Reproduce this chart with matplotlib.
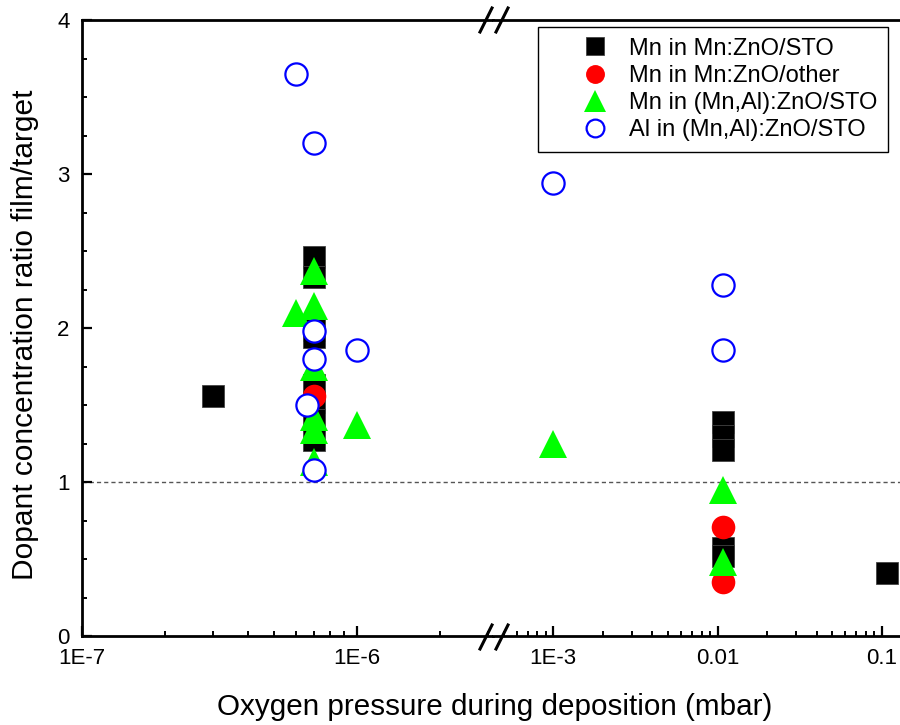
import numpy as np
import matplotlib
matplotlib.use("Agg")
import matplotlib.pyplot as plt
from matplotlib.lines import Line2D
from matplotlib.ticker import LogLocator, MultipleLocator, NullFormatter

plt.rcParams['font.family'] = ['Liberation Sans', 'DejaVu Sans']

# data (pressure in mbar, ratio film/target)
mn_sto_x = [3e-7, 7e-7, 7e-7, 7e-7, 7e-7, 7e-7, 7e-7, 7e-7, 7e-7,
            0.0108, 0.0108, 0.0108, 0.0108, 0.0108, 0.107]
mn_sto_y = [1.56, 2.46, 2.33, 1.99, 1.94, 1.63, 1.52, 1.40, 1.27,
            1.39, 1.30, 1.21, 0.57, 0.52, 0.41]

mn_other_x = [7e-7, 0.0108, 0.0108]
mn_other_y = [1.56, 0.71, 0.35]

mn_al_x = [7e-7, 6e-7, 7e-7, 7e-7, 7e-7, 7e-7, 1e-6, 7e-7, 1e-3, 0.0108, 0.0108]
mn_al_y = [2.37, 2.10, 2.14, 1.75, 1.42, 1.34, 1.37, 1.13, 1.25, 0.95, 0.48]

al_x = [6e-7, 7e-7, 7e-7, 7e-7, 6.6e-7, 7e-7, 1e-6, 1e-3, 0.0108, 0.0108]
al_y = [3.65, 3.20, 1.98, 1.80, 1.50, 1.08, 1.86, 2.94, 2.28, 1.86]

labels = ['Mn in Mn:ZnO/STO', 'Mn in Mn:ZnO/other',
          'Mn in (Mn,Al):ZnO/STO', 'Al in (Mn,Al):ZnO/STO']

W, H = 900, 725
fig = plt.figure(figsize=(9, 7.25), dpi=100)

# broken x axis: two log axes side by side
x_break = 493
ax1 = fig.add_axes([82 / W, (H - 636) / H, (x_break - 82) / W, 616 / H])
ax2 = fig.add_axes([x_break / W, (H - 636) / H, (905 - x_break) / W, 616 / H])

for ax in (ax1, ax2):
    ax.set_xscale('log')
    ax.set_ylim(0, 4)
    ax.axhline(1, color='#555555', lw=1, ls=(0, (3, 2.2)), zorder=1)
    ax.plot(mn_sto_x, mn_sto_y, ls='none', marker='s', ms=15.5,
            mfc='black', mec='#444444', mew=0.6, zorder=2)
    ax.plot(mn_other_x, mn_other_y, ls='none', marker='o', ms=17,
            mfc='red', mec='red', mew=0, zorder=3)
    ax.plot(mn_al_x, mn_al_y, ls='none', marker='^', ms=19.5,
            mfc='#00ff00', mec='#00ff00', mew=0, zorder=4)
    ax.plot(al_x, al_y, ls='none', marker='o', ms=16,
            mfc='white', mec='#0000ff', mew=1.6, zorder=5)
    for sp in ax.spines.values():
        sp.set_linewidth(2)
    ax.tick_params(which='major', direction='in', length=7, width=1.6,
                   labelsize=16, pad=9)
    ax.tick_params(which='minor', direction='in', length=3.5, width=1.4)
    ax.xaxis.set_minor_locator(LogLocator(base=10, subs=np.arange(2, 10)))
    ax.xaxis.set_minor_formatter(NullFormatter())

ax1.set_xlim(1e-7, 10 ** (-7 + (x_break - 82) / 275))
ax2.set_xlim(10 ** (-3 - (553 - x_break) / 164), 10 ** (-1 + (905 - 882) / 164))

ax1.set_xticks([1e-7, 1e-6], ['1E-7', '1E-6'])
ax2.set_xticks([1e-3, 1e-2, 1e-1], ['1E-3', '0.01', '0.1'])
ax1.set_yticks([0, 1, 2, 3, 4], ['0', '1', '2', '3', '4'])
ax1.yaxis.set_minor_locator(MultipleLocator(0.25))
ax1.spines['right'].set_visible(False)
ax2.spines['left'].set_visible(False)
ax2.spines['right'].set_visible(False)
ax2.tick_params(axis='y', which='both', left=False, labelleft=False)

# break marks
for yb in (20, 637):
    for xc in (486, 502):
        fig.add_artist(Line2D([(xc - 6) / W, (xc + 6) / W],
                              [(H - yb - 12) / H, (H - yb + 12) / H],
                              color='black', lw=2.2, transform=fig.transFigure))

fig.text(495 / W, (H - 715) / H, 'Oxygen pressure during deposition (mbar)',
         ha='center', va='baseline', fontsize=21.3)
fig.text(25 / W, (H - 335) / H, 'Dopant concentration ratio film/target',
         ha='center', va='center', rotation=90, fontsize=21.5)

leg = fig.legend(ax1.lines[1:5], labels, loc='upper left',
                 bbox_to_anchor=(538 / W, (H - 27) / H), borderaxespad=0,
                 fontsize=17, markerscale=0.8, handlelength=3.95,
                 handletextpad=-0.53, borderpad=0.45, labelspacing=0.22,
                 fancybox=False, framealpha=1, edgecolor='black')
leg.get_frame().set_linewidth(1.0)

fig.savefig('out.png', dpi=100)
